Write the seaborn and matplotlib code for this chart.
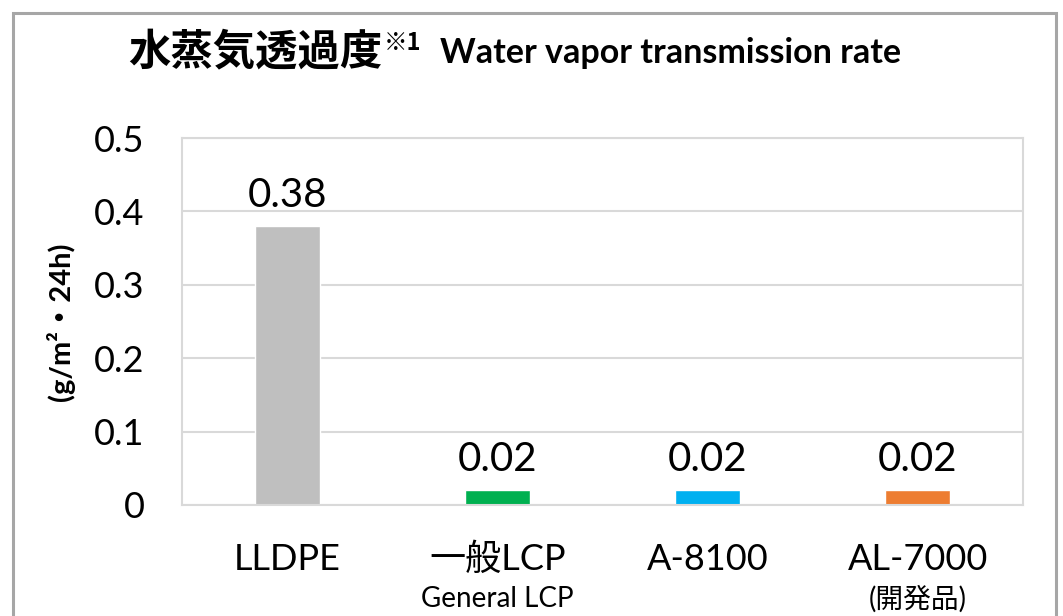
import matplotlib
matplotlib.use("Agg")
import matplotlib.pyplot as plt
import matplotlib.transforms as mtransforms
from matplotlib.patches import Rectangle
import seaborn as sns
import pandas as pd

categories = ["LLDPE", "一般LCP", "A-8100", "AL-7000"]
sublabels = ["", "General LCP", "", "(開発品)"]
values = [0.38, 0.02, 0.02, 0.02]
colors = ["#BFBFBF", "#00B050", "#00B0F0", "#ED7D31"]
yticks = [0, 0.1, 0.2, 0.3, 0.4, 0.5]
ytick_labels = ["0", "0.1", "0.2", "0.3", "0.4", "0.5"]

sns.set_theme(style="white")
FAM = ["Lato", "Noto Sans CJK JP", "DejaVu Sans"]
plt.rcParams["font.family"] = FAM
plt.rcParams["text.color"] = "black"
plt.rcParams["axes.labelcolor"] = "black"
plt.rcParams["xtick.color"] = "black"
plt.rcParams["ytick.color"] = "black"

W, H = 1063, 616
fig = plt.figure(figsize=(W / 100, H / 100), dpi=100)
fig.patch.set_facecolor("white")

# plot area in pixels: left 182, right 1023, top 138, bottom 505
ax = fig.add_axes([182 / W, 1 - 505 / H, (1023 - 182) / W, (505 - 138) / H])

df = pd.DataFrame({"cat": categories, "val": values})
sns.barplot(data=df, x="cat", y="val", hue="cat", palette=colors,
            width=0.31, legend=False, ax=ax, saturation=1)

ax.set_ylim(0, 0.5)
ax.set_xlim(-0.5, len(categories) - 0.5)
ax.set_yticks(yticks)
ax.set_yticklabels(ytick_labels, fontsize=26, color="black")
ax.yaxis.grid(True, color="#D9D9D9", linewidth=1.5)
ax.set_axisbelow(True)
for s in ax.spines.values():
    s.set_color("#D9D9D9")
    s.set_linewidth(1.5)
ax.tick_params(axis="y", length=0, pad=27)
ax.tick_params(axis="x", length=0, pad=27)
ax.set_xticks(range(len(categories)))
ax.set_xticklabels(categories, fontsize=26, color="black")
ax.set_xlabel("")
ax.set_ylabel("(g/m²・24h)", fontsize=21, fontweight="bold", labelpad=14,
              color="black")

for c in ax.containers:
    ax.bar_label(c, fmt="%.2f", fontsize=29, padding=9, color="black")

trans = mtransforms.blended_transform_factory(ax.transData, ax.transAxes)
for i, s in enumerate(sublabels):
    if s:
        ax.text(i, -0.255, s, transform=trans, ha="center", va="center",
                fontsize=20, color="black")

# title
fig.text(128 / W, 1 - 52 / H, "水蒸気透過度", fontsize=30.5, fontweight="bold",
         ha="left", va="center", family=["Noto Sans CJK JP"], color="black")
fig.text(384 / W, 1 - 43 / H, "※1", fontsize=17, fontweight="bold",
         ha="left", va="center", family=["Noto Sans CJK JP"], color="black")
fig.text(440 / W, 1 - 53 / H, "Water vapor transmission rate", fontsize=24.5,
         fontweight="bold", ha="left", va="center", color="black")

# outer frame
fig.patches.append(Rectangle((13 / W, -0.05), (1056 - 13) / W, 1 - 13 / H + 0.05,
                             transform=fig.transFigure, fill=False,
                             edgecolor="#A6A6A6", linewidth=2.2))

fig.savefig("out.png", dpi=100)
